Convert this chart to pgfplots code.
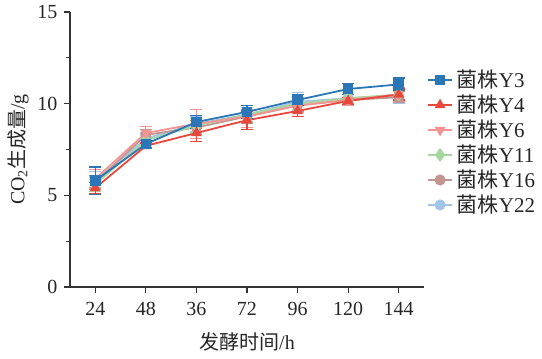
\documentclass[border=0pt]{standalone}
\usepackage{pgfplots}
\pgfplotsset{compat=1.18}
\usepackage{pgfplotstable}
\usepackage{fontspec}
\setmainfont{Liberation Serif}
\newfontfamily\cjk{Noto Sans CJK SC}
\definecolor{cY3}{HTML}{2A76B6}
\definecolor{cY4}{HTML}{E8483B}
\definecolor{cY6}{HTML}{F29592}
\definecolor{cY11}{HTML}{A6D79E}
\definecolor{cY16}{HTML}{C29590}
\definecolor{cY22}{HTML}{A2C4E6}
\pgfplotsset{myerr/.style={error bars/.cd, y dir=both, y explicit, error bar style={line width=1.2bp, solid}, error mark options={line width=1.2bp, mark size=6bp, rotate=90, solid}}}
\pgfplotstableread{
x Y3 e3 Y4 e4 Y6 e6 Y11 e11 Y16 e16 Y22 e22
0 5.8 0.75 5.4 0.3 5.9 0.5 5.6 0.4 5.7 0.4 5.8 0.5
1 7.8 0.2 7.7 0.15 8.4 0.35 8.0 0.3 8.3 0.3 8.1 0.3
2 9.0 0.35 8.4 0.45 8.9 0.8 8.8 0.4 8.7 0.4 8.9 0.4
3 9.55 0.35 9.1 0.5 9.3 0.6 9.4 0.4 9.3 0.4 9.4 0.4
4 10.2 0.3 9.6 0.3 9.9 0.4 10.0 0.35 9.9 0.3 10.1 0.5
5 10.8 0.3 10.15 0.2 10.2 0.3 10.3 0.3 10.2 0.3 10.3 0.3
6 11.05 0.35 10.5 0.3 10.5 0.4 10.5 0.35 10.35 0.3 10.4 0.4
}\data
\begin{document}
\fontsize{19bp}{22bp}\selectfont
\begin{tikzpicture}
\useasboundingbox (-70bp,-72bp) rectangle (472bp,287bp);
\begin{axis}[
  at={(0,0)}, anchor=south west,
  scale only axis, width=354bp, height=275bp,
  xmin=-0.5, xmax=6.5, ymin=0, ymax=15,
  axis x line*=bottom, axis y line*=left,
  axis line style={line width=1.4bp, color=black!80},
  xtick={0,...,6}, xticklabels={24,48,36,72,96,120,144},
  ytick={0,5,10,15}, minor ytick={2.5,7.5,12.5},
  tick align=outside, tick pos=left,
  major tick length=6bp, minor tick length=4bp,
  tick style={line width=1.2bp, color=black!80},
  /pgf/number format/assume math mode=true,
  tick label style={font=\fontsize{20bp}{22bp}\selectfont, text=black!85},
  xticklabel style={yshift=-3bp},
  xlabel={{\cjk 发酵时间}/h},
  ylabel={CO\textsubscript{2}{\cjk 生成量}/g},
  label style={font=\fontsize{20bp}{22bp}\selectfont, text=black!85},
  xlabel style={yshift=-4bp},
  ylabel style={yshift=-4bp},
  reverse legend,
  legend style={at={(1.0,0.805)}, anchor=north west, draw=none, fill=none,
    font=\fontsize{21bp}{23bp}\selectfont, row sep=0.5bp, text=black!85,
    /tikz/every odd column/.style={}, nodes={inner xsep=4bp}},
  legend cell align=left,
  legend image code/.code={\draw[#1] (0bp,0bp) -- (24bp,0bp); \draw[#1, only marks] plot coordinates {(12bp,0bp)};},
  every axis plot/.append style={line width=1.8bp, mark size=4.6bp},
]
\addplot[color=cY22, mark=*, mark options={solid}, myerr] table[x=x, y=Y22, y error=e22] {\data};
\addlegendentry{{\cjk 菌株}Y22}
\addplot[color=cY16, mark=*, mark options={solid}, myerr] table[x=x, y=Y16, y error=e16] {\data};
\addlegendentry{{\cjk 菌株}Y16}
\addplot[color=cY11, mark=diamond*, mark options={solid, scale=1.2}, myerr] table[x=x, y=Y11, y error=e11] {\data};
\addlegendentry{{\cjk 菌株}Y11}
\addplot[color=cY6, mark=triangle*, mark options={solid, rotate=180}, myerr] table[x=x, y=Y6, y error=e6] {\data};
\addlegendentry{{\cjk 菌株}Y6}
\addplot[color=cY4, mark=triangle*, mark options={solid}, myerr] table[x=x, y=Y4, y error=e4] {\data};
\addlegendentry{{\cjk 菌株}Y4}
\addplot[color=cY3, mark=square*, mark options={solid, scale=0.95}, myerr] table[x=x, y=Y3, y error=e3] {\data};
\addlegendentry{{\cjk 菌株}Y3}
\end{axis}
\end{tikzpicture}
\end{document}
